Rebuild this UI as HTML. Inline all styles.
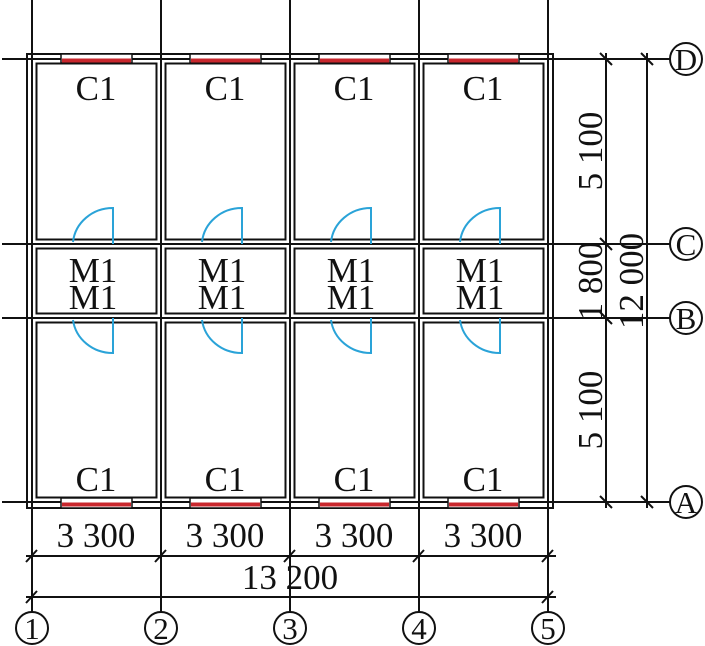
<!DOCTYPE html>
<html><head><meta charset="utf-8"><style>
html,body{margin:0;padding:0;background:#fff;}
svg{display:block;}
text{font-family:"Liberation Serif",serif;fill:#111;}
</style></head><body>
<svg width="705" height="646" viewBox="0 0 705 646" xmlns="http://www.w3.org/2000/svg">
<g stroke="#111" stroke-width="2" fill="none">
  <line x1="32" y1="0" x2="32" y2="612"/>
  <line x1="161" y1="0" x2="161" y2="612"/>
  <line x1="290" y1="0" x2="290" y2="612"/>
  <line x1="419" y1="0" x2="419" y2="612"/>
  <line x1="548" y1="0" x2="548" y2="612"/>
  <line x1="2" y1="59" x2="670" y2="59"/>
  <line x1="2" y1="244" x2="670" y2="244"/>
  <line x1="2" y1="318" x2="670" y2="318"/>
  <line x1="2" y1="502" x2="670" y2="502"/>
  <rect x="27" y="54" width="526" height="454"/>
</g>
<g stroke="#111" stroke-width="2" fill="none">
  <rect x="36.5" y="63.5" width="120" height="176"/>
  <rect x="165.5" y="63.5" width="120" height="176"/>
  <rect x="294.5" y="63.5" width="120" height="176"/>
  <rect x="423.5" y="63.5" width="120" height="176"/>
  <rect x="36.5" y="248.5" width="120" height="65"/>
  <rect x="165.5" y="248.5" width="120" height="65"/>
  <rect x="294.5" y="248.5" width="120" height="65"/>
  <rect x="423.5" y="248.5" width="120" height="65"/>
  <rect x="36.5" y="322.5" width="120" height="175"/>
  <rect x="165.5" y="322.5" width="120" height="175"/>
  <rect x="294.5" y="322.5" width="120" height="175"/>
  <rect x="423.5" y="322.5" width="120" height="175"/>
</g>
<g stroke="#111" stroke-width="1.5">
  <rect x="61" y="54" width="71" height="9" fill="#fff"/>
  <rect x="190" y="54" width="71" height="9" fill="#fff"/>
  <rect x="319" y="54" width="71" height="9" fill="#fff"/>
  <rect x="448" y="54" width="71" height="9" fill="#fff"/>
  <rect x="61" y="498" width="71" height="10" fill="#fff"/>
  <rect x="190" y="498" width="71" height="10" fill="#fff"/>
  <rect x="319" y="498" width="71" height="10" fill="#fff"/>
  <rect x="448" y="498" width="71" height="10" fill="#fff"/>
</g>
<g fill="#c8272d">
  <rect x="62" y="58.5" width="69" height="4"/>
  <rect x="191" y="58.5" width="69" height="4"/>
  <rect x="320" y="58.5" width="69" height="4"/>
  <rect x="449" y="58.5" width="69" height="4"/>
  <rect x="62" y="502.5" width="69" height="4"/>
  <rect x="191" y="502.5" width="69" height="4"/>
  <rect x="320" y="502.5" width="69" height="4"/>
  <rect x="449" y="502.5" width="69" height="4"/>
</g>
<g stroke="#2aa3d8" stroke-width="2" fill="none">
  <path d="M113 244 V208 A40 38 0 0 0 73 242"/>
  <path d="M113 318 V353 A40 38 0 0 1 73 320"/>
  <path d="M242 244 V208 A40 38 0 0 0 202 242"/>
  <path d="M242 318 V353 A40 38 0 0 1 202 320"/>
  <path d="M371 244 V208 A40 38 0 0 0 331 242"/>
  <path d="M371 318 V353 A40 38 0 0 1 331 320"/>
  <path d="M500 244 V208 A40 38 0 0 0 460 242"/>
  <path d="M500 318 V353 A40 38 0 0 1 460 320"/>
</g>
<g font-size="35" text-anchor="middle">
  <text x="96" y="100">C1</text><text x="225" y="100">C1</text><text x="354" y="100">C1</text><text x="483" y="100">C1</text>
  <text x="96" y="491">C1</text><text x="225" y="491">C1</text><text x="354" y="491">C1</text><text x="483" y="491">C1</text>
  <text x="93" y="282">M1</text><text x="222" y="282">M1</text><text x="351" y="282">M1</text><text x="480" y="282">M1</text>
  <text x="93" y="309">M1</text><text x="222" y="309">M1</text><text x="351" y="309">M1</text><text x="480" y="309">M1</text>
</g>
<g stroke="#111" stroke-width="2" fill="none">
  <line x1="26" y1="556" x2="556" y2="556"/>
  <line x1="26" y1="597" x2="556" y2="597"/>
  <path d="M26 562 L37 550 M155 562 L166 550 M284 562 L295 550 M413 562 L424 550 M542 562 L553 550"/>
  <path d="M26 603 L37 591 M542 603 L553 591"/>
  <line x1="606" y1="53" x2="606" y2="508"/>
  <line x1="647" y1="53" x2="647" y2="508"/>
  <path d="M600 53 L612 65 M600 238 L612 250 M600 312 L612 324 M600 496 L612 508"/>
  <path d="M641 53 L653 65 M641 496 L653 508"/>
</g>
<g font-size="35" text-anchor="middle">
  <text x="96" y="547">3 300</text><text x="225" y="547">3 300</text><text x="354" y="547">3 300</text><text x="483" y="547">3 300</text>
  <text x="290" y="589">13 200</text>
  <text transform="translate(602,151) rotate(-90)">5 100</text>
  <text transform="translate(602,281) rotate(-90)">1 800</text>
  <text transform="translate(643,281) rotate(-90)">12 000</text>
  <text transform="translate(602,410) rotate(-90)">5 100</text>
</g>
<g stroke="#111" stroke-width="2" fill="#fff">
  <circle cx="32" cy="628" r="16"/><circle cx="161" cy="628" r="16"/><circle cx="290" cy="628" r="16"/><circle cx="419" cy="628" r="16"/><circle cx="548" cy="628" r="16"/>
  <circle cx="686" cy="59" r="16"/><circle cx="686" cy="244" r="16"/><circle cx="686" cy="318" r="16"/><circle cx="686" cy="502" r="16"/>
</g>
<g font-size="31" text-anchor="middle">
  <text x="32" y="639">1</text><text x="161" y="639">2</text><text x="290" y="639">3</text><text x="419" y="639">4</text><text x="548" y="639">5</text>
  <text x="686" y="70">D</text><text x="686" y="255">C</text><text x="686" y="329">B</text><text x="686" y="513">A</text>
</g>
</svg>
</body></html>
